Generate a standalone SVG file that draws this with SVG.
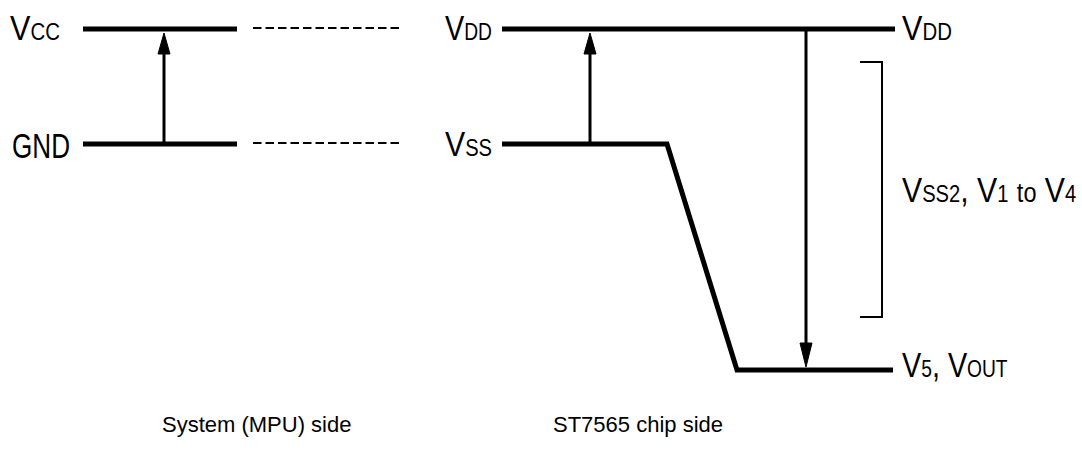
<svg xmlns="http://www.w3.org/2000/svg" width="1082" height="454" viewBox="0 0 1082 454">
<style>
.rail{stroke:#000;stroke-width:5;fill:none}
.dash{stroke:#000;stroke-width:2;stroke-dasharray:8.5 4;fill:none}
.conn{stroke:#000;stroke-width:3;fill:none}
.thin{stroke:#000;stroke-width:2;fill:none}
.lbl{font-family:"Liberation Sans",Arial,sans-serif;font-size:36px;fill:#000}
.sub{font-size:24px}
.mid{font-size:28px}
.cap{font-family:"Liberation Sans",Arial,sans-serif;font-size:22px;fill:#000}
.head{fill:#000;stroke:#000;stroke-width:1}
</style>
<rect width="1082" height="454" fill="#fff"/>
<g id="mpu-vcc">
<line class="rail" x1="83" y1="29" x2="237" y2="29"/>
<text class="lbl" transform="translate(10,40) scale(0.85,1)">V<tspan class="sub">CC</tspan></text>
</g>
<g id="mpu-gnd">
<line class="rail" x1="83" y1="144" x2="237" y2="144"/>
<text class="lbl" transform="translate(12,158) scale(0.725,1)">GND</text>
</g>
<g id="chip-vdd">
<line class="rail" x1="502" y1="29" x2="895" y2="29"/>
<text class="lbl" transform="translate(445,40) scale(0.80,1)">V<tspan class="sub">DD</tspan></text>
<text class="lbl" transform="translate(902,40) scale(0.85,1)">V<tspan class="sub">DD</tspan></text>
</g>
<g id="chip-vss">
<polyline class="rail" points="502,144 667,144 737,370 893,370" stroke-linejoin="miter"/>
<text class="lbl" transform="translate(445,156) scale(0.84,1)">V<tspan class="sub">SS</tspan></text>
</g>
<g id="chip-v5">
<text class="lbl" transform="translate(902,377) scale(0.80,1)">V<tspan class="sub">5</tspan>, V<tspan class="sub">OUT</tspan></text>
</g>
<g id="bracket">
<polyline class="thin" points="860,62 882,62 882,317 860,317"/>
<text class="lbl" transform="translate(902,202) scale(0.84,1)">V<tspan class="sub">SS2</tspan>, V<tspan class="sub">1</tspan> <tspan class="mid">to</tspan> V<tspan class="sub">4</tspan></text>
</g>
<g id="connectors">
<line class="dash" x1="253" y1="28" x2="403" y2="28"/>
<line class="dash" x1="253" y1="143" x2="403" y2="143"/>
<line class="conn" x1="164" y1="144" x2="164" y2="40"/>
<polygon class="head" points="164,33 158,54 170,54"/>
<line class="conn" x1="590" y1="144" x2="590" y2="40"/>
<polygon class="head" points="590,33 584,54 596,54"/>
<line class="conn" x1="806" y1="29" x2="806" y2="360"/>
<polygon class="head" points="806,367 800,343 812,343"/>
</g>
<g id="captions">
<text class="cap" x="162" y="432">System (MPU) side</text>
<text class="cap" x="553" y="432">ST7565 chip side</text>
</g>
</svg>
